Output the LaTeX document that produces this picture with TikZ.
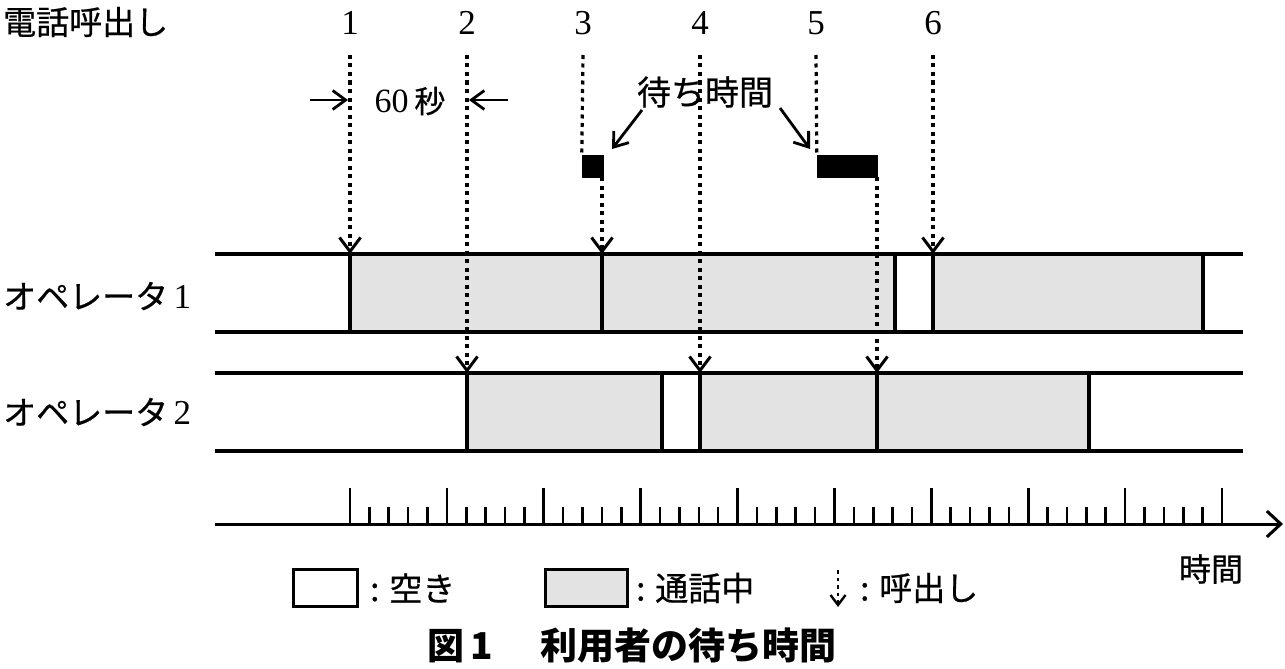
\documentclass[tikz,border=0pt]{standalone}
\usepackage{fontspec}
\setmainfont{Liberation Serif}
\newfontfamily\jp[FakeBold=0.6]{Noto Sans CJK JP}
\newfontfamily\jpb{Noto Sans CJK JP}
\usetikzlibrary{arrows.meta}
\definecolor{busygray}{HTML}{E3E3E3}
\begin{document}
\begin{tikzpicture}[x=1pt,y=-1pt,
  rowline/.style={line width=3.2pt},
  edge/.style={line width=3.4pt},
  busy/.style={fill=busygray,draw=none},
  dots/.style={line width=3.2pt,dash pattern=on 4pt off 4.5pt},
  vtip/.style={-{Straight Barb[length=14pt,width=21pt,line width=3pt]}},
  call/.style={dots,vtip},
  num/.style={font=\fontsize{35}{35}\selectfont,inner sep=0pt},
  jlab/.style={font=\jp\fontsize{33}{33}\selectfont,inner sep=0pt},
  waitbar/.style={fill=black,draw=none},
  dimarrow/.style={line width=2.8pt,-{Straight Barb[length=13pt,width=19pt]}},
  tick/.style={line width=2.6pt}
]
\useasboundingbox (0,0) rectangle (1285,669);

% ---------- top labels ----------
\node[jlab,anchor=west] (hdr) at (3,22) {電話呼出し};
\foreach \i/\x in {1/350,2/467,3/583,4/700,5/816,6/933}
  \node[num] (n\i) at (\x,23) {\i};

% ---------- operator rows ----------
\node[jlab,anchor=west] (op1) at (3,296) {オペレータ\,{\rmfamily\fontsize{35}{35}\selectfont 1}};
\node[jlab,anchor=west] (op2) at (3,412) {オペレータ\,{\rmfamily\fontsize{35}{35}\selectfont 2}};

% operator 1 busy areas
\fill[busy] (350,254) rectangle (895,332);
\fill[busy] (933,254) rectangle (1203,332);
% operator 2 busy areas
\fill[busy] (467,373) rectangle (662,451);
\fill[busy] (700,373) rectangle (1089,451);

\draw[rowline] (215,254) -- (1243,254);
\draw[rowline] (215,332) -- (1243,332);
\draw[rowline] (215,373) -- (1243,373);
\draw[rowline] (215,451) -- (1243,451);

\foreach \x in {350,602,895,933,1203}
  \draw[edge] (\x,254) -- (\x,332);
\foreach \x in {467,662,700,877,1089}
  \draw[edge] (\x,373) -- (\x,451);

% ---------- call targets ----------
\coordinate (t1) at (350,254);
\coordinate (t2) at (467,373);
\coordinate (t3) at (602,254);
\coordinate (t4) at (700,373);
\coordinate (t5) at (877,373);
\coordinate (t6) at (933,254);

% waiting bars
\node[waitbar,minimum width=22pt,minimum height=23pt,inner sep=0pt] (w3) at (593,166) {};
\node[waitbar,minimum width=61pt,minimum height=23pt,inner sep=0pt] (w5) at (847.5,166) {};

% calls
\draw[call] (n1) ++(0,32) -- (t1);
\draw[call] (n2) ++(0,32) -- (t2);
\draw[dots] (n3) ++(0,32) -- (w3.north west);
\draw[call] (602,177) -- (t3);
\draw[call] (n4) ++(0,32) -- (t4);
\draw[dots] (n5) ++(0,32) -- (w5.north west);
\draw[call] (877,177) -- (t5);
\draw[call] (n6) ++(0,32) -- (t6);

% 60 seconds
\node[inner sep=0pt] (sixty) at (410,101) {\fontsize{34}{34}\selectfont 60\,{\jp\fontsize{31}{31}\selectfont 秒}};
\coordinate (a1) at (310,100);
\coordinate (a2) at (348,100);
\coordinate (b1) at (508,100);
\coordinate (b2) at (469,100);
\draw[dimarrow] (a1) -- (a2);
\draw[dimarrow] (b1) -- (b2);

% waiting time
\node[jlab,font=\jp\fontsize{34}{34}\selectfont] (wait) at (705,92) {待ち時間};
\draw[dimarrow] (642,110) -- (612,149);
\draw[dimarrow] (780,108) -- (810,149);

% ---------- time axis ----------
\coordinate (ax0) at (215,524);
\coordinate (ax1) at (1283,524);
\draw[line width=3pt,-{Straight Barb[length=14pt,width=26pt]}] (ax0) -- (ax1);
\foreach \i in {0,...,45}{
  \pgfmathsetmacro{\xx}{350+\i*19.378}
  \pgfmathtruncatemacro{\m}{mod(\i,5)}
  \ifnum\m=0
    \draw[tick] (\xx,488) -- (\xx,524);
  \else
    \draw[tick] (\xx,507) -- (\xx,524);
  \fi
}
\node[jlab,font=\jp\fontsize{32}{32}\selectfont] (tlabel) at (1211,569) {時間};

% ---------- legend ----------
\node[draw,line width=3pt,minimum width=64pt,minimum height=37pt,inner sep=0pt] (lfree) at (325,588) {};
\node[jlab,anchor=west] (lfreet) at (370,588) {:\hspace{0.3em}空き};
\node[draw,line width=3pt,fill=busygray,minimum width=82pt,minimum height=37pt,inner sep=0pt] (lbusy) at (586,588) {};
\node[jlab,anchor=west] (lbusyt) at (636,588) {:\hspace{0.3em}通話中};
\coordinate (lc0) at (838,570);
\coordinate (lc1) at (838,607);
\draw[line width=2.4pt,dash pattern=on 3.5pt off 4pt,-{Straight Barb[length=10pt,width=15pt,line width=2.4pt]}] (lc0) -- (lc1);
\node[jlab,anchor=west] (lcallt) at (860,588) {:\hspace{0.3em}呼出し};

% ---------- caption ----------
\node[inner sep=0pt,font=\jpb\bfseries\fontsize{37}{37}\selectfont] (cap) at (632,646) {図\,1\hspace{1.3em}利用者の待ち時間};
\end{tikzpicture}
\end{document}
